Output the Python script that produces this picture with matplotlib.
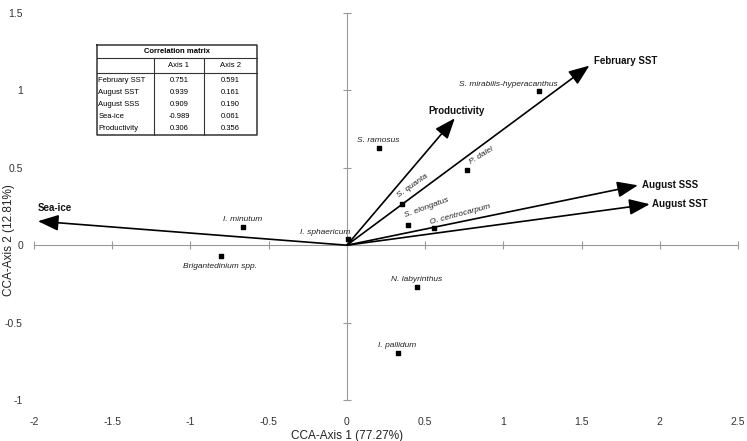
import numpy as np
import matplotlib.pyplot as plt

plt.rcParams['font.family'] = ['Liberation Sans', 'DejaVu Sans']

# environmental vectors (arrow tips)
env_names = ['Sea-ice', 'Productivity', 'February SST', 'August SSS', 'August SST']
env_x = [-1.975, 0.69, 1.55, 1.86, 1.936]
env_y = [0.155, 0.82, 1.16, 0.387, 0.265]

# species scores
sp_names = ['S. mirabilis-hyperacanthus', 'S. ramosus', 'P. dalei', 'S. quanta', 'S. elongatus',
            'O. centrocarpum', 'I. sphaericum', 'I. minutum', 'Brigantedinium spp.',
            'N. labyrinthus', 'I. pallidum']
sp_x = [1.227, 0.204, 0.767, 0.351, 0.39, 0.556, 0.006, -0.665, -0.805, 0.447, 0.326]
sp_y = [0.994, 0.626, 0.485, 0.265, 0.129, 0.11, 0.039, 0.116, -0.071, -0.271, -0.697]

# correlation matrix
corr_vars = ['February SST', 'August SST', 'August SSS', 'Sea-ice', 'Productivity']
corr_ax1 = ['0.751', '0.939', '0.909', '-0.989', '0.306']
corr_ax2 = ['0.591', '0.161', '0.190', '0.061', '0.356']

xticks = [-2, -1.5, -1, -0.5, 0, 0.5, 1, 1.5, 2, 2.5]
yticks = [-1, -0.5, 0, 0.5, 1, 1.5]

W, H = 747, 441
fig = plt.figure(figsize=(W / 100, H / 100), dpi=100)
ax = fig.add_axes([34 / W, 1 - 400 / H, 704 / W, 387 / H])
ax.set_xlim(-2, 2.5)
ax.set_ylim(-1, 1.5)
for s in ax.spines.values():
    s.set_visible(False)
ax.set_xticks(xticks)
ax.set_xticklabels([f'{t:g}' for t in xticks])
ax.set_yticks(yticks)
ax.set_yticklabels([f'{t:g}' for t in yticks])
ax.tick_params(axis='x', length=0, pad=12, labelsize=7.5, labelcolor='#333333')
ax.tick_params(axis='y', length=0, pad=8, labelsize=7.5, labelcolor='#333333')

# axis lines through the origin
sx = ax.secondary_xaxis(0, transform=ax.transData)
sx.set_xticks(xticks)
sx.tick_params(direction='inout', length=6, width=0.8, color='#999999', labelbottom=False)
sx.spines['bottom'].set_color('#999999')
sx.spines['bottom'].set_linewidth(0.8)
sy = ax.secondary_yaxis(0, transform=ax.transData)
sy.set_yticks(yticks)
sy.tick_params(direction='inout', length=6, width=0.8, color='#999999', labelleft=False)
sy.spines['left'].set_color('#999999')
sy.spines['left'].set_linewidth(0.8)

fig.text(347 / W, 1 - 436 / H, 'CCA-Axis 1 (77.27%)', ha='center', va='center', fontsize=8.5, color='#222222')
fig.text(9 / W, 1 - 240 / H, 'CCA-Axis 2 (12.81%)', ha='center', va='center', rotation=90,
         fontsize=8.5, color='#222222')

# arrows
for x, y in zip(env_x, env_y):
    ax.annotate('', xy=(x, y), xytext=(0, 0),
                arrowprops=dict(arrowstyle='-|>,head_length=0.9,head_width=0.35', color='black',
                                lw=1.2, mutation_scale=14, shrinkA=0, shrinkB=0))

env_lab = {
    'Sea-ice': (-1.975, 0.24, 'left'),
    'Productivity': (0.70, 0.865, 'center'),
    'February SST': (1.58, 1.19, 'left'),
    'August SSS': (1.885, 0.387, 'left'),
    'August SST': (1.95, 0.265, 'left'),
}
for n in env_names:
    tx, ty, ha = env_lab[n]
    ax.text(tx, ty, n, ha=ha, va='center', fontsize=7, fontweight='bold', color='#111111')

ax.scatter(sp_x, sp_y, marker='s', s=10, color='black', zorder=5)

sp_lab = {
    'S. mirabilis-hyperacanthus': (1.035, 1.04, 'center', 0),
    'S. ramosus': (0.198, 0.677, 'center', 0),
    'P. dalei': (0.80, 0.516, 'left', 32),
    'S. quanta': (0.339, 0.30, 'left', 35),
    'S. elongatus': (0.377, 0.17, 'left', 20),
    'O. centrocarpum': (0.537, 0.125, 'left', 15),
    'I. sphaericum': (-0.14, 0.084, 'center', 0),
    'I. minutum': (-0.665, 0.168, 'center', 0),
    'Brigantedinium spp.': (-0.81, -0.135, 'center', 0),
    'N. labyrinthus': (0.447, -0.219, 'center', 0),
    'I. pallidum': (0.32, -0.645, 'center', 0),
}
for n in sp_names:
    tx, ty, ha, rot = sp_lab[n]
    ax.text(tx, ty, n, ha=ha, va='bottom' if rot else 'center', rotation=rot,
            rotation_mode='anchor', fontsize=6, fontstyle='italic', color='#222222')

# correlation table
tb = fig.add_axes([97 / W, 1 - 135 / H, 160 / W, 90 / H])
tb.set_xlim(0, 160)
tb.set_ylim(90, 0)
tb.axis('off')
lc = '#333333'
tb.plot([0, 160, 160, 0, 0], [0, 0, 90, 90, 0], color=lc, lw=1.1, clip_on=False)
tb.plot([0, 160], [13, 13], color=lc, lw=0.8, clip_on=False)
tb.plot([0, 160], [28, 28], color=lc, lw=0.8, clip_on=False)
tb.plot([57, 57], [13, 90], color=lc, lw=0.8, clip_on=False)
tb.plot([107, 107], [13, 90], color=lc, lw=0.8, clip_on=False)
tb.text(80, 6.5, 'Correlation matrix', ha='center', va='center', fontsize=5.5, fontweight='bold')
tb.text(82, 20.5, 'Axis 1', ha='center', va='center', fontsize=5.5)
tb.text(133.5, 20.5, 'Axis 2', ha='center', va='center', fontsize=5.5)
for i, (v, a1, a2) in enumerate(zip(corr_vars, corr_ax1, corr_ax2)):
    yy = 35 + i * 12
    tb.text(1.5, yy, v, ha='left', va='center', fontsize=5.5)
    tb.text(82, yy, a1, ha='center', va='center', fontsize=5.5)
    tb.text(133.5, yy, a2, ha='center', va='center', fontsize=5.5)

fig.savefig('out.png', dpi=100)
